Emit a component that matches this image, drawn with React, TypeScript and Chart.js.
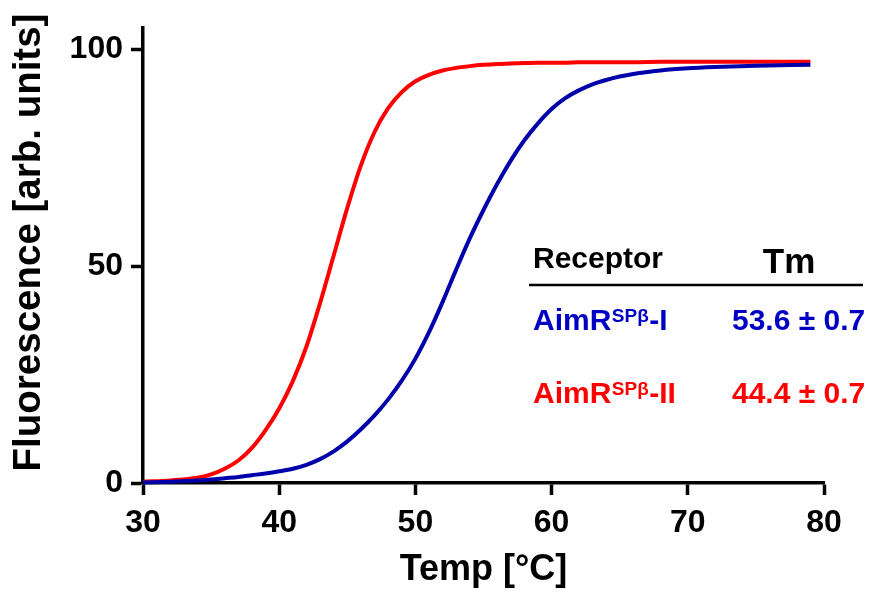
import React, { useEffect, useRef } from 'react';
import { Chart, registerables } from 'chart.js';

Chart.register(...registerables);

// ---- data ----
const temps = [30, 32, 34, 35, 36, 37, 38, 39, 40, 41, 42, 43, 44, 45, 46, 47, 48, 49, 50, 51, 52, 53, 54, 55, 56, 57, 58, 59, 60, 61, 62, 63, 64, 65, 66, 68, 70, 72, 75, 79];
const aimR2Values = [0.3, 0.6, 1.2, 2.0, 3.3, 5.2, 8.1, 12.2, 17.2, 23.5, 31.5, 41.5, 52.5, 63.5, 73.3, 81.0, 86.5, 90.2, 92.7, 94.2, 95.2, 95.8, 96.2, 96.5, 96.7, 96.8, 96.9, 97.0, 97.0, 97.0, 97.1, 97.1, 97.1, 97.1, 97.1, 97.2, 97.2, 97.2, 97.2, 97.2];
const aimR1Values = [0.1, 0.3, 0.6, 0.8, 1.1, 1.4, 1.8, 2.2, 2.7, 3.3, 4.2, 5.5, 7.3, 9.6, 12.4, 15.6, 19.3, 23.6, 28.7, 34.8, 41.8, 49.3, 56.5, 63.0, 69.0, 74.4, 79.1, 83.0, 86.3, 88.8, 90.6, 92.0, 93.0, 93.8, 94.4, 95.2, 95.7, 96.0, 96.3, 96.5];
const yTickValues = [0, 50, 100];
const tableHeaders = ['Receptor', 'Tm'];
const receptorBase = ['AimR', 'AimR'];
const receptorSup = ['SPβ', 'SPβ'];
const receptorSuffix = ['-I', '-II'];
const tmValues = ['53.6 ± 0.7', '44.4 ± 0.7'];
const seriesNames = ['AimRSPβ-I', 'AimRSPβ-II'];

const FONT = "'Liberation Sans', Arial, Helvetica, sans-serif";
const BLUE_LINE = '#0000aa';
const BLUE_TEXT = '#0000c4';
const RED = '#ff0000';

const overlayPlugin = {
  id: 'overlayText',
  afterDraw(chart: any) {
    const ctx = chart.ctx as CanvasRenderingContext2D;
    ctx.save();
    // y axis title
    ctx.save();
    ctx.translate(29.5, 242.5);
    ctx.rotate(-Math.PI / 2);
    ctx.font = `bold 38.5px ${FONT}`;
    ctx.fillStyle = '#000';
    ctx.textAlign = 'center';
    ctx.textBaseline = 'middle';
    ctx.fillText('Fluorescence [arb. units]', 0, 0);
    ctx.restore();

    // table header
    ctx.fillStyle = '#000';
    ctx.textBaseline = 'alphabetic';
    ctx.textAlign = 'left';
    ctx.font = `bold 30px ${FONT}`;
    ctx.fillText(tableHeaders[0], 533, 268);
    ctx.textAlign = 'center';
    ctx.font = `bold 35px ${FONT}`;
    ctx.fillText(tableHeaders[1], 789, 273);

    ctx.strokeStyle = '#000';
    ctx.lineWidth = 2.5;
    ctx.beginPath();
    ctx.moveTo(529, 285);
    ctx.lineTo(863, 285);
    ctx.stroke();

    const rowColors = [BLUE_TEXT, RED];
    const rowBaselines = [330, 403];
    for (let i = 0; i < receptorBase.length; i++) {
      const yb = rowBaselines[i];
      ctx.fillStyle = rowColors[i];
      ctx.textAlign = 'left';
      ctx.font = `bold 30px ${FONT}`;
      let x = 533;
      ctx.fillText(receptorBase[i], x, yb);
      x += ctx.measureText(receptorBase[i]).width;
      ctx.font = `bold 19px ${FONT}`;
      ctx.fillText(receptorSup[i], x + 0.5, yb - 8);
      x += ctx.measureText(receptorSup[i]).width + 1;
      ctx.font = `bold 30px ${FONT}`;
      ctx.fillText(receptorSuffix[i], x, yb);
      ctx.fillText(tmValues[i], 732, yb);
    }
    ctx.restore();
  },
};

export default function App() {
  const canvasRef = useRef<HTMLCanvasElement | null>(null);

  useEffect(() => {
    const canvas = canvasRef.current;
    if (!canvas) return;
    const chart = new Chart(canvas, {
      type: 'line',
      data: {
        datasets: [
          {
            label: seriesNames[0],
            data: temps.map((t, i) => ({ x: t, y: aimR1Values[i] })),
            borderColor: BLUE_LINE,
            borderWidth: 4,
            pointRadius: 0,
            cubicInterpolationMode: 'monotone',
            fill: false,
            clip: 8,
          },
          {
            label: seriesNames[1],
            data: temps.map((t, i) => ({ x: t, y: aimR2Values[i] })),
            borderColor: RED,
            borderWidth: 4,
            pointRadius: 0,
            cubicInterpolationMode: 'monotone',
            fill: false,
            clip: 8,
          },
        ],
      },
      options: {
        responsive: false,
        animation: false,
        devicePixelRatio: 1,
        layout: { padding: { left: 0, right: 53, top: 28, bottom: 0 } },
        plugins: {
          legend: { display: false },
          tooltip: { enabled: false },
        },
        scales: {
          x: {
            type: 'linear',
            min: 30,
            max: 80,
            afterFit: (scale: any) => {
              scale.height = 112;
            },
            ticks: {
              stepSize: 10,
              padding: 9,
              color: '#000',
              font: { family: FONT, size: 32, weight: 'bold' },
            },
            grid: {
              display: true,
              drawOnChartArea: false,
              drawTicks: true,
              tickLength: 12,
              tickWidth: 3.5,
              tickColor: '#000',
            },
            border: { display: true, color: '#000', width: 3.5 },
            title: {
              display: true,
              text: 'Temp [°C]',
              color: '#000',
              font: { family: FONT, size: 36, weight: 'bold' },
              padding: { top: 0, bottom: 3 },
            },
          },
          y: {
            type: 'linear',
            min: 0,
            max: 105,
            afterFit: (scale: any) => {
              scale.width = 143;
            },
            afterBuildTicks: (scale: any) => {
              scale.ticks = yTickValues.map((v) => ({ value: v }));
            },
            ticks: {
              padding: 8,
              color: '#000',
              font: { family: FONT, size: 32, weight: 'bold' },
            },
            grid: {
              display: true,
              drawOnChartArea: false,
              drawTicks: true,
              tickLength: 12,
              tickWidth: 3.5,
              tickColor: '#000',
            },
            border: { display: true, color: '#000', width: 3.5 },
          },
        },
      },
      plugins: [overlayPlugin],
    } as any);
    return () => chart.destroy();
  }, []);

  return (
    <div style={{ position: 'absolute', left: 0, top: 0, width: 877, height: 595, background: '#fff' }}>
      <canvas ref={canvasRef} width={877} height={595} />
    </div>
  );
}
